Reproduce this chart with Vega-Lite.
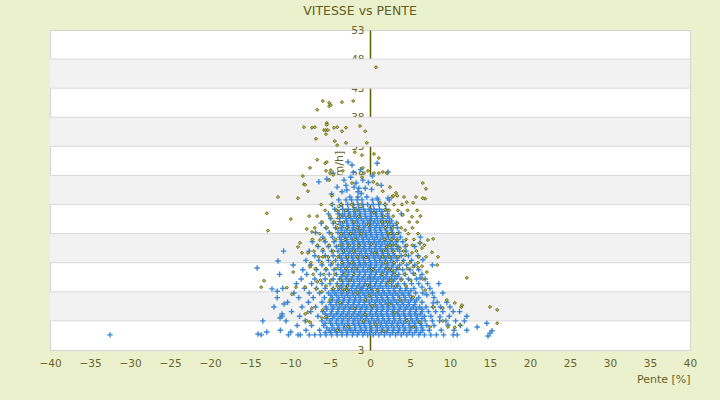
{
  "$schema": "https://vega.github.io/schema/vega-lite/v6.json",
  "width": 640,
  "height": 320,
  "autosize": {"type": "none"},
  "padding": {"left": 50, "top": 30, "right": 30, "bottom": 50},
  "background": "#ebf0cd",
  "title": {
    "text": "VITESSE vs PENTE",
    "font": "DejaVu Sans",
    "fontSize": 12.5,
    "fontWeight": "normal",
    "color": "#5f5f22",
    "anchor": "middle",
    "dx": -10,
    "offset": 8
  },
  "config": {
    "view": {"fill": "white", "stroke": "#d4d4d4", "strokeWidth": 1},
    "axisX": {
      "labelOverlap": false,
      "labelFlush": false,
      "grid": false,
      "ticks": false,
      "domain": false,
      "labelPadding": 8,
      "labelFont": "DejaVu Sans",
      "labelFontSize": 10.5,
      "labelColor": "#66662a",
      "titleFont": "DejaVu Sans",
      "titleFontSize": 11,
      "titleFontWeight": "normal",
      "titleColor": "#66662a",
      "titleAnchor": "end",
      "titlePadding": 5
    },
    "axisY": {
      "labelOverlap": false,
      "labelFlush": false,
      "grid": false,
      "ticks": false,
      "domainColor": "#5c5c00",
      "domainWidth": 1.5,
      "labelPadding": 6,
      "labelFont": "DejaVu Sans",
      "labelFontSize": 10.5,
      "labelColor": "#66662a",
      "titleFont": "DejaVu Sans",
      "titleFontSize": 11,
      "titleFontWeight": "normal",
      "titleColor": "#66662a",
      "titleAngle": -90,
      "titleX": -31,
      "titleY": 160,
      "titleAlign": "center",
      "titleBaseline": "middle",
      "zindex": 1
    }
  },
  "datasets": {
    "bands": [
      {"lo": 43, "hi": 48},
      {"lo": 33, "hi": 38},
      {"lo": 23, "hi": 28},
      {"lo": 13, "hi": 18},
      {"lo": 3, "hi": 8}
    ],
    "grid": [
      {"g": 3}, {"g": 8}, {"g": 13}, {"g": 18}, {"g": 23}, {"g": 28}, {"g": 33}, {"g": 38}, {"g": 43}, {"g": 48}
    ],
    "blue": [
      {"x":-32.5,"y":0.6},{"x":-14.0,"y":0.75},{"x":-13.6,"y":0.6},{"x":-10.2,"y":0.6},{"x":-9.0,"y":0.6},{"x":-8.7,"y":0.6},{"x":-7.6,"y":0.6},{"x":-6.9,"y":0.6},{"x":-6.2,"y":0.6},{"x":-5.5,"y":0.6},{"x":-4.8,"y":0.6},{"x":-4.1,"y":0.6},{"x":-3.5,"y":0.6},{"x":-2.9,"y":0.6},{"x":-2.2,"y":0.6},{"x":-1.6,"y":0.6},{"x":-0.9,"y":0.6},{"x":-0.3,"y":0.6},{"x":0.4,"y":0.6},{"x":1.1,"y":0.6},{"x":1.8,"y":0.6},{"x":2.5,"y":0.6},{"x":3.2,"y":0.6},{"x":3.9,"y":0.6},{"x":4.6,"y":0.6},{"x":5.3,"y":0.6},{"x":6.1,"y":0.6},{"x":6.8,"y":0.6},{"x":7.6,"y":0.6},{"x":8.3,"y":0.6},{"x":9.2,"y":0.6},{"x":10.4,"y":0.6},{"x":10.9,"y":0.6},{"x":14.75,"y":0.4},{"x":15.0,"y":0.9},
      {"x":-12.9,"y":1.1},{"x":-9.9,"y":1.1},{"x":-11.2,"y":1.4},{"x":-8.0,"y":1.4},{"x":-6.3,"y":1.4},{"x":-5.1,"y":1.4},{"x":-4.4,"y":1.4},{"x":-3.8,"y":1.4},{"x":-3.0,"y":1.4},{"x":-2.4,"y":1.4},{"x":-1.8,"y":1.4},{"x":-1.1,"y":1.4},{"x":-0.5,"y":1.4},{"x":0.2,"y":1.4},{"x":0.9,"y":1.4},{"x":1.5,"y":1.4},{"x":2.2,"y":1.4},{"x":2.9,"y":1.4},{"x":3.6,"y":1.4},{"x":4.3,"y":1.4},{"x":5.0,"y":1.4},{"x":5.8,"y":1.4},{"x":6.6,"y":1.4},{"x":7.4,"y":1.4},{"x":8.9,"y":1.4},{"x":10.5,"y":1.4},{"x":12.1,"y":1.4},{"x":15.25,"y":1.3},{"x":13.4,"y":1.95},
      {"x":-9.1,"y":2.2},{"x":-7.3,"y":2.2},{"x":-5.8,"y":2.2},{"x":-4.7,"y":2.2},{"x":-3.9,"y":2.2},{"x":-3.2,"y":2.2},{"x":-2.6,"y":2.2},{"x":-1.9,"y":2.2},{"x":-1.3,"y":2.2},{"x":-0.7,"y":2.2},{"x":0.0,"y":2.2},{"x":0.7,"y":2.2},{"x":1.3,"y":2.2},{"x":2.0,"y":2.2},{"x":2.7,"y":2.2},{"x":3.4,"y":2.2},{"x":4.1,"y":2.2},{"x":4.9,"y":2.2},{"x":5.6,"y":2.2},{"x":6.4,"y":2.2},{"x":7.1,"y":2.2},{"x":8.0,"y":2.2},{"x":9.75,"y":2.3},{"x":11.3,"y":2.2},{"x":14.6,"y":2.6},
      {"x":-13.4,"y":3.0},{"x":-10.5,"y":3.0},{"x":-8.1,"y":3.0},{"x":-6.0,"y":3.0},{"x":-5.0,"y":3.0},{"x":-4.2,"y":3.0},{"x":-3.5,"y":3.0},{"x":-2.8,"y":3.0},{"x":-2.1,"y":3.0},{"x":-1.5,"y":3.0},{"x":-0.8,"y":3.0},{"x":-0.2,"y":3.0},{"x":0.5,"y":3.0},{"x":1.1,"y":3.0},{"x":1.8,"y":3.0},{"x":2.4,"y":3.0},{"x":3.1,"y":3.0},{"x":3.8,"y":3.0},{"x":4.5,"y":3.0},{"x":5.3,"y":3.0},{"x":6.0,"y":3.0},{"x":6.9,"y":3.0},{"x":7.8,"y":3.0},{"x":8.7,"y":3.0},{"x":9.5,"y":3.0},{"x":10.7,"y":3.0},{"x":11.8,"y":3.0},
      {"x":-11.25,"y":3.5},{"x":-11.0,"y":3.8},{"x":-8.8,"y":3.8},{"x":-6.5,"y":3.8},{"x":-5.3,"y":3.8},{"x":-4.5,"y":3.8},{"x":-3.7,"y":3.8},{"x":-3.0,"y":3.8},{"x":-2.3,"y":3.8},{"x":-1.6,"y":3.8},{"x":-1.0,"y":3.8},{"x":-0.4,"y":3.8},{"x":0.3,"y":3.8},{"x":1.0,"y":3.8},{"x":1.6,"y":3.8},{"x":2.3,"y":3.8},{"x":3.0,"y":3.8},{"x":3.7,"y":3.8},{"x":4.4,"y":3.8},{"x":5.1,"y":3.8},{"x":5.9,"y":3.8},{"x":6.8,"y":3.8},{"x":7.6,"y":3.8},{"x":8.75,"y":3.7},{"x":9.9,"y":3.8},{"x":12.1,"y":3.8},
      {"x":-11.0,"y":4.2},{"x":-9.8,"y":4.6},{"x":-7.4,"y":4.6},{"x":-5.9,"y":4.6},{"x":-4.8,"y":4.6},{"x":-4.0,"y":4.6},{"x":-3.3,"y":4.6},{"x":-2.6,"y":4.6},{"x":-1.9,"y":4.6},{"x":-1.2,"y":4.6},{"x":-0.6,"y":4.6},{"x":0.1,"y":4.6},{"x":0.8,"y":4.6},{"x":1.4,"y":4.6},{"x":2.1,"y":4.6},{"x":2.8,"y":4.6},{"x":3.5,"y":4.6},{"x":4.2,"y":4.6},{"x":5.0,"y":4.6},{"x":5.7,"y":4.6},{"x":6.5,"y":4.6},{"x":7.3,"y":4.6},{"x":8.2,"y":4.6},{"x":9.1,"y":4.6},{"x":10.4,"y":4.6},{"x":11.2,"y":4.6},
      {"x":-12.0,"y":5.4},{"x":-8.5,"y":5.4},{"x":-6.8,"y":5.4},{"x":-5.5,"y":5.4},{"x":-4.6,"y":5.4},{"x":-3.8,"y":5.4},{"x":-3.1,"y":5.4},{"x":-2.4,"y":5.4},{"x":-1.7,"y":5.4},{"x":-1.0,"y":5.4},{"x":-0.4,"y":5.4},{"x":0.3,"y":5.4},{"x":0.9,"y":5.4},{"x":1.6,"y":5.4},{"x":2.3,"y":5.4},{"x":3.0,"y":5.4},{"x":3.8,"y":5.4},{"x":4.6,"y":5.4},{"x":5.4,"y":5.4},{"x":6.2,"y":5.4},{"x":7.0,"y":5.4},{"x":7.9,"y":5.4},{"x":8.8,"y":5.4},{"x":10.0,"y":5.4},
      {"x":-10.75,"y":5.9},{"x":-10.3,"y":6.2},{"x":-7.7,"y":6.2},{"x":-6.0,"y":6.2},{"x":-5.0,"y":6.2},{"x":-4.2,"y":6.2},{"x":-3.4,"y":6.2},{"x":-2.7,"y":6.2},{"x":-2.0,"y":6.2},{"x":-1.4,"y":6.2},{"x":-0.7,"y":6.2},{"x":-0.1,"y":6.2},{"x":0.6,"y":6.2},{"x":1.2,"y":6.2},{"x":1.9,"y":6.2},{"x":2.6,"y":6.2},{"x":3.3,"y":6.2},{"x":4.0,"y":6.2},{"x":4.8,"y":6.2},{"x":5.6,"y":6.2},{"x":6.5,"y":6.2},{"x":7.9,"y":6.1},{"x":8.4,"y":6.2},{"x":9.6,"y":6.2},
      {"x":-11.6,"y":7.0},{"x":-8.9,"y":7.0},{"x":-7.1,"y":7.0},{"x":-5.7,"y":7.0},{"x":-4.7,"y":7.0},{"x":-3.9,"y":7.0},{"x":-3.2,"y":7.0},{"x":-2.5,"y":7.0},{"x":-1.8,"y":7.0},{"x":-1.2,"y":7.0},{"x":-0.5,"y":7.0},{"x":0.2,"y":7.0},{"x":0.9,"y":7.0},{"x":1.5,"y":7.0},{"x":2.2,"y":7.0},{"x":2.9,"y":7.0},{"x":3.7,"y":7.0},{"x":4.4,"y":7.0},{"x":5.2,"y":7.0},{"x":6.1,"y":7.0},{"x":7.1,"y":7.5},{"x":8.0,"y":7.0},
      {"x":-9.5,"y":7.8},{"x":-7.6,"y":7.8},{"x":-6.3,"y":7.8},{"x":-5.2,"y":7.8},{"x":-4.4,"y":7.8},{"x":-3.6,"y":7.8},{"x":-2.9,"y":7.8},{"x":-2.2,"y":7.8},{"x":-1.5,"y":7.8},{"x":-0.9,"y":7.8},{"x":-0.2,"y":7.8},{"x":0.4,"y":7.8},{"x":1.1,"y":7.8},{"x":1.8,"y":7.8},{"x":2.5,"y":7.8},{"x":3.2,"y":7.8},{"x":4.0,"y":7.8},{"x":4.8,"y":7.8},{"x":5.7,"y":7.8},{"x":6.6,"y":7.8},{"x":7.8,"y":7.8},{"x":9.1,"y":7.8},
      {"x":-11.6,"y":8.1},{"x":-12.25,"y":8.5},{"x":-10.9,"y":8.6},{"x":-8.2,"y":8.6},{"x":-6.7,"y":8.6},{"x":-5.6,"y":8.6},{"x":-4.6,"y":8.6},{"x":-3.8,"y":8.6},{"x":-3.0,"y":8.6},{"x":-2.3,"y":8.6},{"x":-1.7,"y":8.6},{"x":-1.0,"y":8.6},{"x":-0.3,"y":8.6},{"x":0.3,"y":8.6},{"x":1.0,"y":8.6},{"x":1.6,"y":8.6},{"x":2.3,"y":8.6},{"x":3.0,"y":8.6},{"x":3.8,"y":8.6},{"x":4.6,"y":8.6},{"x":5.5,"y":8.6},{"x":6.5,"y":8.8},{"x":7.5,"y":8.6},
      {"x":-9.2,"y":9.4},{"x":-7.3,"y":9.4},{"x":-6.0,"y":9.4},{"x":-5.0,"y":9.4},{"x":-4.1,"y":9.4},{"x":-3.4,"y":9.4},{"x":-2.7,"y":9.4},{"x":-2.0,"y":9.4},{"x":-1.3,"y":9.4},{"x":-0.7,"y":9.4},{"x":0.0,"y":9.4},{"x":0.7,"y":9.4},{"x":1.3,"y":9.4},{"x":2.0,"y":9.4},{"x":2.7,"y":9.4},{"x":3.5,"y":9.4},{"x":4.3,"y":9.4},{"x":5.2,"y":9.4},{"x":6.1,"y":9.4},{"x":7.2,"y":9.4},{"x":8.6,"y":9.4},
      {"x":-8.6,"y":10.2},{"x":-6.9,"y":10.2},{"x":-5.6,"y":10.2},{"x":-4.6,"y":10.2},{"x":-3.8,"y":10.2},{"x":-3.0,"y":10.2},{"x":-2.3,"y":10.2},{"x":-1.6,"y":10.2},{"x":-1.0,"y":10.2},{"x":-0.3,"y":10.2},{"x":0.4,"y":10.2},{"x":1.0,"y":10.2},{"x":1.7,"y":10.2},{"x":2.4,"y":10.2},{"x":3.1,"y":10.2},{"x":3.9,"y":10.2},{"x":4.8,"y":10.2},{"x":5.8,"y":10.2},{"x":6.25,"y":10.4},{"x":6.9,"y":10.2},
      {"x":-11.3,"y":11.0},{"x":-7.9,"y":11.0},{"x":-6.2,"y":11.0},{"x":-5.1,"y":11.0},{"x":-4.2,"y":11.0},{"x":-3.4,"y":11.0},{"x":-2.7,"y":11.0},{"x":-2.0,"y":11.0},{"x":-1.3,"y":11.0},{"x":-0.6,"y":11.0},{"x":0.1,"y":11.0},{"x":0.7,"y":11.0},{"x":1.4,"y":11.0},{"x":2.1,"y":11.0},{"x":2.8,"y":11.0},{"x":3.6,"y":11.0},{"x":4.4,"y":11.0},{"x":5.4,"y":11.2},{"x":6.5,"y":11.0},
      {"x":-8.4,"y":11.8},{"x":-6.7,"y":11.8},{"x":-5.5,"y":11.8},{"x":-4.5,"y":11.8},{"x":-3.7,"y":11.8},{"x":-3.0,"y":11.8},{"x":-2.3,"y":11.8},{"x":-1.6,"y":11.8},{"x":-0.9,"y":11.8},{"x":-0.3,"y":11.8},{"x":0.4,"y":11.8},{"x":1.1,"y":11.8},{"x":1.8,"y":11.8},{"x":2.5,"y":11.8},{"x":3.3,"y":11.8},{"x":4.1,"y":11.8},{"x":5.0,"y":11.8},{"x":6.1,"y":11.8},
      {"x":-14.1,"y":12.1},{"x":-9.6,"y":12.6},{"x":-7.4,"y":12.6},{"x":-6.0,"y":12.6},{"x":-4.9,"y":12.6},{"x":-4.0,"y":12.6},{"x":-3.3,"y":12.6},{"x":-2.6,"y":12.6},{"x":-1.9,"y":12.6},{"x":-1.2,"y":12.6},{"x":-0.5,"y":12.6},{"x":0.1,"y":12.6},{"x":0.8,"y":12.6},{"x":1.5,"y":12.6},{"x":2.2,"y":12.6},{"x":2.9,"y":12.6},{"x":3.7,"y":12.6},{"x":4.6,"y":12.6},{"x":5.6,"y":12.6},{"x":7.8,"y":12.6},
      {"x":-11.5,"y":13.3},{"x":-8.0,"y":13.4},{"x":-6.4,"y":13.4},{"x":-5.2,"y":13.4},{"x":-4.3,"y":13.4},{"x":-3.5,"y":13.4},{"x":-2.8,"y":13.4},{"x":-2.1,"y":13.4},{"x":-1.4,"y":13.4},{"x":-0.8,"y":13.4},{"x":-0.1,"y":13.4},{"x":0.6,"y":13.4},{"x":1.2,"y":13.4},{"x":1.9,"y":13.4},{"x":2.6,"y":13.4},{"x":3.4,"y":13.4},{"x":4.2,"y":13.4},{"x":5.2,"y":13.4},{"x":6.6,"y":13.5},
      {"x":-6.9,"y":14.2},{"x":-5.6,"y":14.2},{"x":-4.6,"y":14.2},{"x":-3.8,"y":14.2},{"x":-3.0,"y":14.2},{"x":-2.3,"y":14.2},{"x":-1.6,"y":14.2},{"x":-1.0,"y":14.2},{"x":-0.3,"y":14.2},{"x":0.4,"y":14.2},{"x":1.0,"y":14.2},{"x":1.7,"y":14.2},{"x":2.4,"y":14.2},{"x":3.1,"y":14.2},{"x":3.9,"y":14.2},{"x":4.8,"y":14.2},{"x":6.0,"y":14.2},
      {"x":-10.8,"y":15.0},{"x":-7.6,"y":15.0},{"x":-5.9,"y":15.0},{"x":-4.8,"y":15.0},{"x":-4.0,"y":15.0},{"x":-3.2,"y":15.0},{"x":-2.5,"y":15.0},{"x":-1.8,"y":15.0},{"x":-1.1,"y":15.0},{"x":-0.5,"y":15.0},{"x":0.2,"y":15.0},{"x":0.9,"y":15.0},{"x":1.5,"y":15.0},{"x":2.2,"y":15.0},{"x":2.9,"y":15.0},{"x":3.7,"y":15.0},{"x":4.5,"y":15.0},
      {"x":-6.5,"y":15.8},{"x":-5.2,"y":15.8},{"x":-4.2,"y":15.8},{"x":-3.4,"y":15.8},{"x":-2.7,"y":15.8},{"x":-2.0,"y":15.8},{"x":-1.3,"y":15.8},{"x":-0.7,"y":15.8},{"x":0.0,"y":15.8},{"x":0.7,"y":15.8},{"x":1.3,"y":15.8},{"x":2.0,"y":15.8},{"x":2.7,"y":15.8},{"x":3.5,"y":15.8},{"x":4.4,"y":15.8},{"x":5.6,"y":15.8},
      {"x":6.25,"y":16.4},{"x":-7.2,"y":16.6},{"x":-5.6,"y":16.6},{"x":-4.5,"y":16.6},{"x":-3.6,"y":16.6},{"x":-2.9,"y":16.6},{"x":-2.2,"y":16.6},{"x":-1.5,"y":16.6},{"x":-0.9,"y":16.6},{"x":-0.2,"y":16.6},{"x":0.5,"y":16.6},{"x":1.1,"y":16.6},{"x":1.8,"y":16.6},{"x":2.5,"y":16.6},{"x":3.3,"y":16.6},{"x":4.1,"y":16.6},
      {"x":-5.9,"y":17.4},{"x":-4.7,"y":17.4},{"x":-3.8,"y":17.4},{"x":-3.1,"y":17.4},{"x":-2.4,"y":17.4},{"x":-1.7,"y":17.4},{"x":-1.0,"y":17.4},{"x":-0.4,"y":17.4},{"x":0.3,"y":17.4},{"x":0.9,"y":17.4},{"x":1.6,"y":17.4},{"x":2.3,"y":17.4},{"x":3.0,"y":17.4},{"x":3.8,"y":17.4},{"x":6.3,"y":17.4},
      {"x":-6.8,"y":18.2},{"x":-5.1,"y":18.2},{"x":-4.0,"y":18.2},{"x":-3.2,"y":18.2},{"x":-2.5,"y":18.2},{"x":-1.8,"y":18.2},{"x":-1.2,"y":18.2},{"x":-0.5,"y":18.2},{"x":0.1,"y":18.2},{"x":0.8,"y":18.2},{"x":1.4,"y":18.2},{"x":2.1,"y":18.2},{"x":2.8,"y":18.2},{"x":3.6,"y":18.2},
      {"x":-5.5,"y":19.0},{"x":-4.3,"y":19.0},{"x":-3.5,"y":19.0},{"x":-2.8,"y":19.0},{"x":-2.1,"y":19.0},{"x":-1.4,"y":19.0},{"x":-0.8,"y":19.0},{"x":-0.1,"y":19.0},{"x":0.6,"y":19.0},{"x":1.2,"y":19.0},{"x":1.9,"y":19.0},{"x":2.6,"y":19.0},{"x":3.4,"y":19.0},
      {"x":-6.1,"y":19.8},{"x":-4.6,"y":19.8},{"x":-3.7,"y":19.8},{"x":-2.9,"y":19.8},{"x":-2.2,"y":19.8},{"x":-1.6,"y":19.8},{"x":-0.9,"y":19.8},{"x":-0.3,"y":19.8},{"x":0.4,"y":19.8},{"x":1.0,"y":19.8},{"x":1.7,"y":19.8},{"x":2.5,"y":19.8},{"x":3.3,"y":19.8},
      {"x":-4.9,"y":20.6},{"x":-3.8,"y":20.6},{"x":-3.0,"y":20.6},{"x":-2.4,"y":20.6},{"x":-1.7,"y":20.6},{"x":-1.1,"y":20.6},{"x":-0.4,"y":20.6},{"x":0.2,"y":20.6},{"x":0.9,"y":20.6},{"x":1.6,"y":20.6},{"x":2.4,"y":20.6},
      {"x":-5.2,"y":21.4},{"x":-4.0,"y":21.4},{"x":-3.2,"y":21.4},{"x":-2.5,"y":21.4},{"x":-1.8,"y":21.4},{"x":-1.2,"y":21.4},{"x":-0.6,"y":21.4},{"x":0.1,"y":21.4},{"x":0.7,"y":21.4},{"x":1.4,"y":21.4},{"x":2.2,"y":21.4},{"x":3.9,"y":21.4},
      {"x":-4.4,"y":22.2},{"x":-3.4,"y":22.2},{"x":-2.7,"y":22.2},{"x":-2.0,"y":22.2},{"x":-1.4,"y":22.2},{"x":-0.8,"y":22.2},{"x":-0.1,"y":22.2},{"x":0.5,"y":22.2},{"x":1.2,"y":22.2},{"x":2.0,"y":22.2},
      {"x":-4.7,"y":23.0},{"x":-3.6,"y":23.0},{"x":-2.8,"y":23.0},{"x":-2.1,"y":23.0},{"x":-1.5,"y":23.0},{"x":-0.9,"y":23.0},{"x":-0.3,"y":23.0},{"x":0.4,"y":23.0},{"x":1.1,"y":23.0},{"x":1.9,"y":23.0},
      {"x":-3.9,"y":23.8},{"x":-3.0,"y":23.8},{"x":-2.3,"y":23.8},{"x":-1.6,"y":23.8},{"x":-1.0,"y":23.8},{"x":0.3,"y":23.8},{"x":1.0,"y":23.8},{"x":2.4,"y":23.8},
      {"x":-2.5,"y":24.3},{"x":-1.5,"y":24.3},{"x":-0.4,"y":24.3},{"x":0.9,"y":24.1},{"x":2.25,"y":24.1},{"x":-4.8,"y":24.8},{"x":-1.1,"y":24.9},{"x":-3.5,"y":25.2},{"x":-1.5,"y":25.2},{"x":-2.9,"y":25.5},{"x":0.2,"y":25.6},{"x":-1.4,"y":25.8},{"x":-0.6,"y":25.8},{"x":-4.1,"y":26.0},{"x":-2.0,"y":26.0},{"x":-3.0,"y":26.3},{"x":1.4,"y":26.3},{"x":-1.75,"y":26.7},{"x":-0.2,"y":26.8},{"x":-6.4,"y":26.9},{"x":-3.25,"y":27.2},{"x":-0.9,"y":27.2},{"x":-5.4,"y":27.4},{"x":-2.4,"y":27.7},{"x":0.3,"y":27.9},{"x":-4.6,"y":28.4},{"x":-2.1,"y":28.5},{"x":2.25,"y":28.6},{"x":-1.2,"y":29.0},{"x":-2.25,"y":29.8},{"x":0.9,"y":30.1},{"x":-2.75,"y":30.3},
      {"x":-5.6,"y":1.0},{"x":-4.9,"y":1.0},{"x":-4.2,"y":1.0},{"x":-3.5,"y":1.0},{"x":-2.8,"y":1.0},{"x":-2.1,"y":1.0},{"x":-1.4,"y":1.0},{"x":-0.7,"y":1.0},{"x":0.0,"y":1.0},{"x":0.7,"y":1.0},{"x":1.4,"y":1.0},{"x":2.1,"y":1.0},{"x":2.8,"y":1.0},{"x":3.5,"y":1.0},{"x":4.2,"y":1.0},{"x":4.9,"y":1.0},{"x":5.6,"y":1.0},{"x":6.3,"y":1.0},
      {"x":-5.4,"y":1.8},{"x":-4.7,"y":1.8},{"x":-4.0,"y":1.8},{"x":-3.3,"y":1.8},{"x":-2.6,"y":1.8},{"x":-1.9,"y":1.8},{"x":-1.2,"y":1.8},{"x":-0.5,"y":1.8},{"x":0.2,"y":1.8},{"x":0.9,"y":1.8},{"x":1.6,"y":1.8},{"x":2.3,"y":1.8},{"x":3.0,"y":1.8},{"x":3.7,"y":1.8},{"x":4.4,"y":1.8},{"x":5.1,"y":1.8},{"x":5.8,"y":1.8},{"x":6.5,"y":1.8},
      {"x":-5.6,"y":2.6},{"x":-4.9,"y":2.6},{"x":-4.2,"y":2.6},{"x":-3.5,"y":2.6},{"x":-2.8,"y":2.6},{"x":-2.1,"y":2.6},{"x":-1.4,"y":2.6},{"x":-0.7,"y":2.6},{"x":0.0,"y":2.6},{"x":0.7,"y":2.6},{"x":1.4,"y":2.6},{"x":2.1,"y":2.6},{"x":2.8,"y":2.6},{"x":3.5,"y":2.6},{"x":4.2,"y":2.6},{"x":4.9,"y":2.6},{"x":5.6,"y":2.6},{"x":6.3,"y":2.6},
      {"x":-5.4,"y":3.4},{"x":-4.7,"y":3.4},{"x":-4.0,"y":3.4},{"x":-3.3,"y":3.4},{"x":-2.6,"y":3.4},{"x":-1.9,"y":3.4},{"x":-1.2,"y":3.4},{"x":-0.5,"y":3.4},{"x":0.2,"y":3.4},{"x":0.9,"y":3.4},{"x":1.6,"y":3.4},{"x":2.3,"y":3.4},{"x":3.0,"y":3.4},{"x":3.7,"y":3.4},{"x":4.4,"y":3.4},{"x":5.1,"y":3.4},{"x":5.8,"y":3.4},{"x":6.5,"y":3.4},
      {"x":-5.6,"y":4.2},{"x":-4.9,"y":4.2},{"x":-4.2,"y":4.2},{"x":-3.5,"y":4.2},{"x":-2.8,"y":4.2},{"x":-2.1,"y":4.2},{"x":-1.4,"y":4.2},{"x":-0.7,"y":4.2},{"x":0.0,"y":4.2},{"x":0.7,"y":4.2},{"x":1.4,"y":4.2},{"x":2.1,"y":4.2},{"x":2.8,"y":4.2},{"x":3.5,"y":4.2},{"x":4.2,"y":4.2},{"x":4.9,"y":4.2},{"x":5.6,"y":4.2},{"x":6.3,"y":4.2},
      {"x":-5.4,"y":5.0},{"x":-4.7,"y":5.0},{"x":-4.0,"y":5.0},{"x":-3.3,"y":5.0},{"x":-2.6,"y":5.0},{"x":-1.9,"y":5.0},{"x":-1.2,"y":5.0},{"x":-0.5,"y":5.0},{"x":0.2,"y":5.0},{"x":0.9,"y":5.0},{"x":1.6,"y":5.0},{"x":2.3,"y":5.0},{"x":3.0,"y":5.0},{"x":3.7,"y":5.0},{"x":4.4,"y":5.0},{"x":5.1,"y":5.0},{"x":5.8,"y":5.0},{"x":6.5,"y":5.0},
      {"x":-4.9,"y":5.8},{"x":-4.2,"y":5.8},{"x":-3.5,"y":5.8},{"x":-2.8,"y":5.8},{"x":-2.1,"y":5.8},{"x":-1.4,"y":5.8},{"x":-0.7,"y":5.8},{"x":0.0,"y":5.8},{"x":0.7,"y":5.8},{"x":1.4,"y":5.8},{"x":2.1,"y":5.8},{"x":2.8,"y":5.8},{"x":3.5,"y":5.8},{"x":4.2,"y":5.8},{"x":4.9,"y":5.8},{"x":5.6,"y":5.8},
      {"x":-4.7,"y":6.6},{"x":-4.0,"y":6.6},{"x":-3.3,"y":6.6},{"x":-2.6,"y":6.6},{"x":-1.9,"y":6.6},{"x":-1.2,"y":6.6},{"x":-0.5,"y":6.6},{"x":0.2,"y":6.6},{"x":0.9,"y":6.6},{"x":1.6,"y":6.6},{"x":2.3,"y":6.6},{"x":3.0,"y":6.6},{"x":3.7,"y":6.6},{"x":4.4,"y":6.6},{"x":5.1,"y":6.6},{"x":5.8,"y":6.6},
      {"x":-4.9,"y":7.4},{"x":-4.2,"y":7.4},{"x":-3.5,"y":7.4},{"x":-2.8,"y":7.4},{"x":-2.1,"y":7.4},{"x":-1.4,"y":7.4},{"x":-0.7,"y":7.4},{"x":0.0,"y":7.4},{"x":0.7,"y":7.4},{"x":1.4,"y":7.4},{"x":2.1,"y":7.4},{"x":2.8,"y":7.4},{"x":3.5,"y":7.4},{"x":4.2,"y":7.4},{"x":4.9,"y":7.4},
      {"x":-4.7,"y":8.2},{"x":-4.0,"y":8.2},{"x":-3.3,"y":8.2},{"x":-2.6,"y":8.2},{"x":-1.9,"y":8.2},{"x":-1.2,"y":8.2},{"x":-0.5,"y":8.2},{"x":0.2,"y":8.2},{"x":0.9,"y":8.2},{"x":1.6,"y":8.2},{"x":2.3,"y":8.2},{"x":3.0,"y":8.2},{"x":3.7,"y":8.2},{"x":4.4,"y":8.2},{"x":5.1,"y":8.2},
      {"x":-3.6,"y":9.0},{"x":-2.9,"y":9.0},{"x":-2.2,"y":9.0},{"x":-1.5,"y":9.0},{"x":-0.8,"y":9.0},{"x":-0.1,"y":9.0},{"x":0.6,"y":9.0},{"x":1.3,"y":9.0},{"x":2.0,"y":9.0},{"x":2.7,"y":9.0},{"x":3.4,"y":9.0},
      {"x":-3.4,"y":9.8},{"x":-2.7,"y":9.8},{"x":-2.0,"y":9.8},{"x":-1.3,"y":9.8},{"x":-0.6,"y":9.8},{"x":0.1,"y":9.8},{"x":0.8,"y":9.8},{"x":1.5,"y":9.8},{"x":2.2,"y":9.8},{"x":2.9,"y":9.8},
      {"x":-3.6,"y":10.6},{"x":-2.9,"y":10.6},{"x":-2.2,"y":10.6},{"x":-1.5,"y":10.6},{"x":-0.8,"y":10.6},{"x":-0.1,"y":10.6},{"x":0.6,"y":10.6},{"x":1.3,"y":10.6},{"x":2.0,"y":10.6},{"x":2.7,"y":10.6},{"x":3.4,"y":10.6},
      {"x":-3.4,"y":11.4},{"x":-2.7,"y":11.4},{"x":-2.0,"y":11.4},{"x":-1.3,"y":11.4},{"x":-0.6,"y":11.4},{"x":0.1,"y":11.4},{"x":0.8,"y":11.4},{"x":1.5,"y":11.4},{"x":2.2,"y":11.4},{"x":2.9,"y":11.4},
      {"x":-3.6,"y":12.2},{"x":-2.9,"y":12.2},{"x":-2.2,"y":12.2},{"x":-1.5,"y":12.2},{"x":-0.8,"y":12.2},{"x":-0.1,"y":12.2},{"x":0.6,"y":12.2},{"x":1.3,"y":12.2},{"x":2.0,"y":12.2},{"x":2.7,"y":12.2},{"x":3.4,"y":12.2},
      {"x":-3.4,"y":13.0},{"x":-2.7,"y":13.0},{"x":-2.0,"y":13.0},{"x":-1.3,"y":13.0},{"x":-0.6,"y":13.0},{"x":0.1,"y":13.0},{"x":0.8,"y":13.0},{"x":1.5,"y":13.0},{"x":2.2,"y":13.0},{"x":2.9,"y":13.0},
      {"x":-3.6,"y":13.8},{"x":-2.9,"y":13.8},{"x":-2.2,"y":13.8},{"x":-1.5,"y":13.8},{"x":-0.8,"y":13.8},{"x":-0.1,"y":13.8},{"x":0.6,"y":13.8},{"x":1.3,"y":13.8},{"x":2.0,"y":13.8},{"x":2.7,"y":13.8},{"x":3.4,"y":13.8},
      {"x":-3.4,"y":14.6},{"x":-2.7,"y":14.6},{"x":-2.0,"y":14.6},{"x":-1.3,"y":14.6},{"x":-0.6,"y":14.6},{"x":0.1,"y":14.6},{"x":0.8,"y":14.6},{"x":1.5,"y":14.6},{"x":2.2,"y":14.6},{"x":2.9,"y":14.6},
      {"x":-3.6,"y":15.4},{"x":-2.9,"y":15.4},{"x":-2.2,"y":15.4},{"x":-1.5,"y":15.4},{"x":-0.8,"y":15.4},{"x":-0.1,"y":15.4},{"x":0.6,"y":15.4},{"x":1.3,"y":15.4},{"x":2.0,"y":15.4},{"x":2.7,"y":15.4},{"x":3.4,"y":15.4},
      {"x":-3.4,"y":16.2},{"x":-2.7,"y":16.2},{"x":-2.0,"y":16.2},{"x":-1.3,"y":16.2},{"x":-0.6,"y":16.2},{"x":0.1,"y":16.2},{"x":0.8,"y":16.2},{"x":1.5,"y":16.2},{"x":2.2,"y":16.2},{"x":2.9,"y":16.2},
      {"x":-3.6,"y":17.0},{"x":-2.9,"y":17.0},{"x":-2.2,"y":17.0},{"x":-1.5,"y":17.0},{"x":-0.8,"y":17.0},{"x":-0.1,"y":17.0},{"x":0.6,"y":17.0},{"x":1.3,"y":17.0},{"x":2.0,"y":17.0},{"x":2.7,"y":17.0},{"x":3.4,"y":17.0},
      {"x":-3.4,"y":17.8},{"x":-2.7,"y":17.8},{"x":-2.0,"y":17.8},{"x":-1.3,"y":17.8},{"x":-0.6,"y":17.8},{"x":0.1,"y":17.8},{"x":0.8,"y":17.8},{"x":1.5,"y":17.8},{"x":2.2,"y":17.8},{"x":2.9,"y":17.8},
      {"x":-3.6,"y":18.6},{"x":-2.9,"y":18.6},{"x":-2.2,"y":18.6},{"x":-1.5,"y":18.6},{"x":-0.8,"y":18.6},{"x":-0.1,"y":18.6},{"x":0.6,"y":18.6},{"x":1.3,"y":18.6},{"x":2.0,"y":18.6},{"x":2.7,"y":18.6},
      {"x":-3.4,"y":19.4},{"x":-2.7,"y":19.4},{"x":-2.0,"y":19.4},{"x":-1.3,"y":19.4},{"x":-0.6,"y":19.4},{"x":0.1,"y":19.4},{"x":0.8,"y":19.4},{"x":1.5,"y":19.4},{"x":2.2,"y":19.4},{"x":2.9,"y":19.4},
      {"x":-2.9,"y":20.2},{"x":-2.2,"y":20.2},{"x":-1.5,"y":20.2},{"x":-0.8,"y":20.2},{"x":-0.1,"y":20.2},{"x":0.6,"y":20.2},{"x":1.3,"y":20.2},{"x":2.0,"y":20.2},{"x":2.7,"y":20.2},
      {"x":-3.4,"y":21.0},{"x":-2.7,"y":21.0},{"x":-2.0,"y":21.0},{"x":-1.3,"y":21.0},{"x":-0.6,"y":21.0},{"x":0.1,"y":21.0},{"x":0.8,"y":21.0},{"x":1.5,"y":21.0},{"x":2.2,"y":21.0},
      {"x":-2.7,"y":21.8},{"x":-2.0,"y":21.8},{"x":-1.3,"y":21.8},{"x":-0.6,"y":21.8},{"x":0.1,"y":21.8},{"x":0.8,"y":21.8},{"x":1.5,"y":21.8}
    ],
    "olive": [
      {"x":0.75,"y":46.6},{"x":-5.9,"y":40.8},{"x":-5.1,"y":40.5},{"x":-5.1,"y":39.9},{"x":-4.9,"y":40.1},{"x":-3.5,"y":40.6},{"x":-2.1,"y":40.8},{"x":-6.6,"y":39.3},{"x":-5.4,"y":37.0},{"x":-5.4,"y":36.7},{"x":-4.1,"y":36.3},{"x":-4.5,"y":36.2},{"x":-8.25,"y":36.3},{"x":-7.25,"y":36.2},{"x":-6.9,"y":36.3},{"x":-5.75,"y":35.8},{"x":-5.5,"y":35.8},{"x":-5.25,"y":35.8},{"x":-5.5,"y":35.1},{"x":-3.0,"y":36.2},{"x":-1.25,"y":36.5},{"x":-0.6,"y":35.6},{"x":-3.5,"y":35.6},{"x":-6.75,"y":34.3},{"x":-4.4,"y":33.9},{"x":-3.0,"y":33.6},{"x":-0.4,"y":33.6},{"x":-1.9,"y":32.0},{"x":-1.0,"y":31.5},{"x":0.5,"y":31.7},{"x":1.1,"y":31.0},{"x":-4.1,"y":33.2},{"x":-6.6,"y":30.7},{"x":-5.6,"y":30.1},{"x":-5.4,"y":30.3},{"x":-7.5,"y":29.3},{"x":-8.4,"y":27.9},{"x":-8.25,"y":26.5},{"x":-8.1,"y":26.4},{"x":-7.75,"y":25.3},{"x":-5.5,"y":28.8},{"x":-4.9,"y":28.9},{"x":-5.0,"y":28.4},{"x":-4.6,"y":28.1},{"x":-5.1,"y":27.2},{"x":-3.4,"y":28.8},{"x":-2.25,"y":26.7},{"x":-1.0,"y":27.7},{"x":-0.9,"y":29.3},{"x":-0.75,"y":28.4},{"x":-0.25,"y":28.8},{"x":0.5,"y":28.4},{"x":1.1,"y":28.4},{"x":1.6,"y":28.6},{"x":2.1,"y":28.4},{"x":0.4,"y":26.9},{"x":0.9,"y":26.5},{"x":2.5,"y":26.0},{"x":1.6,"y":25.3},{"x":2.9,"y":24.5},{"x":3.25,"y":25.0},{"x":4.25,"y":24.3},{"x":5.75,"y":24.3},{"x":6.6,"y":26.7},{"x":7.0,"y":25.7},{"x":6.9,"y":24.0},{"x":-11.5,"y":24.3},{"x":-9.0,"y":24.1},{"x":-4.75,"y":24.5},
      {"x":-12.9,"y":21.5},{"x":-9.9,"y":20.5},{"x":-12.75,"y":18.5},{"x":-7.6,"y":21.0},{"x":-7.9,"y":18.8},{"x":-7.25,"y":18.3},{"x":-8.75,"y":16.4},{"x":-9.0,"y":15.7},{"x":-8.5,"y":14.7},{"x":-7.75,"y":14.7},{"x":-6.25,"y":16.9},{"x":-5.9,"y":14.0},{"x":-7.5,"y":12.3},{"x":-9.6,"y":11.4},{"x":-13.25,"y":9.9},{"x":-13.6,"y":8.8},{"x":-10.4,"y":8.7},{"x":-9.75,"y":7.6},{"x":-9.25,"y":8.8},{"x":-8.1,"y":8.8},{"x":-6.6,"y":9.7},{"x":-6.0,"y":8.0},{"x":-7.25,"y":5.2},{"x":-7.75,"y":4.5},{"x":-8.1,"y":4.2},{"x":-7.9,"y":3.0},{"x":-7.5,"y":2.8},{"x":-6.0,"y":3.5},{"x":-5.5,"y":3.7},{"x":-5.9,"y":4.9},{"x":-5.0,"y":6.6},{"x":-3.75,"y":6.1},{"x":-2.9,"y":8.3},{"x":-1.6,"y":7.8},{"x":-0.6,"y":6.6},{"x":0.9,"y":8.3},{"x":2.25,"y":9.5},{"x":3.75,"y":6.6},{"x":5.4,"y":7.1},{"x":6.9,"y":8.3},{"x":7.9,"y":5.4},{"x":9.1,"y":5.2},{"x":9.6,"y":6.6},{"x":10.6,"y":6.1},{"x":11.4,"y":5.4},{"x":11.5,"y":5.7},{"x":10.6,"y":1.9},{"x":11.25,"y":2.3},{"x":12.1,"y":10.4},{"x":15.0,"y":5.4},{"x":15.9,"y":4.9},{"x":15.9,"y":2.6},{"x":6.25,"y":2.8},{"x":7.5,"y":1.95},{"x":5.4,"y":1.95},{"x":9.1,"y":3.0},{"x":9.75,"y":1.95},
      {"x":2.75,"y":24.3},{"x":3.4,"y":24.5},{"x":4.6,"y":23.4},{"x":5.4,"y":23.3},{"x":6.6,"y":24.1},{"x":4.1,"y":21.2},{"x":5.25,"y":20.9},{"x":3.4,"y":19.8},{"x":4.4,"y":18.6},{"x":3.4,"y":16.9},{"x":3.75,"y":15.5},{"x":4.4,"y":14.3},{"x":5.25,"y":14.7},{"x":6.25,"y":16.4},{"x":7.75,"y":14.8},{"x":7.9,"y":17.1},{"x":7.25,"y":16.9},{"x":6.5,"y":15.5},{"x":8.5,"y":14.0},{"x":6.5,"y":12.4},{"x":7.1,"y":11.4},{"x":8.4,"y":12.6},{"x":5.4,"y":12.3},{"x":6.6,"y":10.2},{"x":2.75,"y":11.7},{"x":1.6,"y":14.0},{"x":2.1,"y":15.7},{"x":2.25,"y":18.1},{"x":1.5,"y":20.0},{"x":1.9,"y":22.1},{"x":1.25,"y":23.3},
      {"x":-6.1,"y":23},{"x":-4.8,"y":23},{"x":-3.6,"y":23},{"x":-2.3,"y":23},{"x":-1.2,"y":23},
      {"x":-5.6,"y":22},{"x":-4.2,"y":22},{"x":-3.0,"y":22},{"x":-1.8,"y":22},
      {"x":-6.6,"y":21},{"x":-5.0,"y":21},{"x":-3.7,"y":21},{"x":-2.6,"y":21},{"x":-1.4,"y":21},
      {"x":-6.0,"y":20},{"x":-4.5,"y":20},{"x":-3.3,"y":20},{"x":-2.0,"y":20},
      {"x":-6.9,"y":19},{"x":-5.4,"y":19},{"x":-4.1,"y":19},{"x":-2.9,"y":19},{"x":-1.6,"y":19},
      {"x":-6.3,"y":18},{"x":-4.8,"y":18},{"x":-3.6,"y":18},{"x":-2.4,"y":18},{"x":-1.1,"y":18},
      {"x":-7.2,"y":17},{"x":-5.7,"y":17},{"x":-4.3,"y":17},{"x":-3.1,"y":17},{"x":-1.9,"y":17},
      {"x":-6.6,"y":16},{"x":-5.1,"y":16},{"x":-3.8,"y":16},{"x":-2.6,"y":16},{"x":-1.4,"y":16},
      {"x":-7.0,"y":15},{"x":-5.9,"y":15.3},{"x":-4.6,"y":15},{"x":-3.3,"y":15},{"x":-2.1,"y":15},
      {"x":-6.4,"y":14},{"x":-5.2,"y":14},{"x":-4.0,"y":14},{"x":-2.8,"y":14},{"x":-1.6,"y":14},
      {"x":-7.4,"y":13},{"x":-6.0,"y":13},{"x":-4.7,"y":13},{"x":-3.5,"y":13},{"x":-2.3,"y":13},
      {"x":-6.8,"y":12},{"x":-5.5,"y":12},{"x":-4.2,"y":12},{"x":-3.0,"y":12},{"x":-1.8,"y":12},
      {"x":-7.1,"y":11},{"x":-5.8,"y":11},{"x":-4.4,"y":11},{"x":-3.2,"y":11},{"x":-2.0,"y":11},
      {"x":-6.2,"y":10},{"x":-4.9,"y":10},{"x":-3.7,"y":10},{"x":-2.5,"y":10},
      {"x":-5.5,"y":9},{"x":-4.1,"y":9},{"x":-2.8,"y":9},
      {"x":-6.7,"y":8.5},{"x":-4.6,"y":8.5},{"x":-3.4,"y":8.5},
      {"x":-0.6,"y":4.1},{"x":0.3,"y":5.6},{"x":-0.3,"y":9.2},{"x":0.4,"y":11.8},{"x":-0.5,"y":13.9},{"x":0.2,"y":16.2},{"x":-0.2,"y":19.5},{"x":0.5,"y":21.6},{"x":-0.8,"y":3.0},{"x":0.7,"y":2.4},{"x":-0.1,"y":7.3},{"x":0.6,"y":14.7},
      {"x":1.9,"y":23},{"x":3.0,"y":23},{"x":4.0,"y":23},
      {"x":2.4,"y":22},{"x":3.5,"y":22},{"x":4.7,"y":22},{"x":5.9,"y":22},
      {"x":1.7,"y":21},{"x":2.9,"y":21},{"x":6.3,"y":21},
      {"x":2.2,"y":20},{"x":4.9,"y":20},{"x":5.9,"y":20},
      {"x":1.9,"y":19},{"x":2.8,"y":19},{"x":3.9,"y":19},{"x":5.3,"y":19},
      {"x":2.6,"y":18},{"x":3.4,"y":18},{"x":4.8,"y":18},{"x":6.0,"y":18},
      {"x":1.8,"y":17},{"x":2.7,"y":17},{"x":4.5,"y":17},{"x":5.5,"y":17},
      {"x":2.5,"y":16},{"x":3.2,"y":16},{"x":4.6,"y":16},{"x":5.3,"y":16},{"x":6.8,"y":16},
      {"x":1.7,"y":15},{"x":2.9,"y":15},{"x":4.2,"y":15},{"x":5.8,"y":15},
      {"x":2.4,"y":14},{"x":3.5,"y":14},{"x":6.1,"y":14},{"x":7.0,"y":14},
      {"x":1.9,"y":13},{"x":3.0,"y":13},{"x":4.1,"y":13},{"x":5.0,"y":13},{"x":6.0,"y":13},
      {"x":2.2,"y":12},{"x":3.6,"y":12},{"x":4.7,"y":12},{"x":6.0,"y":12.2},
      {"x":1.6,"y":11},{"x":3.1,"y":11},{"x":4.3,"y":11},{"x":5.6,"y":11},
      {"x":2.6,"y":10},{"x":3.9,"y":10},{"x":5.1,"y":10},
      {"x":3.2,"y":9},{"x":4.5,"y":9},
      {"x":-2.7,"y":2.0},{"x":1.7,"y":1.2},{"x":3.1,"y":4.4},{"x":4.6,"y":3.1},{"x":-4.1,"y":1.4},{"x":2.4,"y":5.9},{"x":-1.9,"y":5.1}
    ]
  },
  "layer": [
    {
      "data": {"name": "bands"},
      "mark": {"type": "rect", "fill": "#f2f2f2"},
      "encoding": {
        "x": {
          "datum": -40,
          "type": "quantitative",
          "scale": {"domain": [-40, 40], "nice": false},
          "axis": {"title": "Pente [%]", "values": [-40, -35, -30, -25, -20, -15, -10, -5, 0, 5, 10, 15, 20, 25, 30, 35, 40], "labelOverlap": false}
        },
        "x2": {"datum": 40},
        "y": {
          "field": "lo",
          "type": "quantitative",
          "scale": {"domain": [-2, 53], "nice": false, "zero": false},
          "axis": {"title": "Vitesse [km/h]", "offset": -320, "values": [-2, 3, 8, 13, 18, 23, 28, 33, 38, 43, 48, 53], "labelExpr": "datum.value < 0 ? '3' : datum.label", "labelOverlap": false}
        },
        "y2": {"field": "hi"}
      }
    },
    {
      "data": {"name": "grid"},
      "mark": {"type": "rule", "color": "#d9d9d9", "strokeWidth": 1},
      "encoding": {
        "y": {
          "field": "g",
          "type": "quantitative",
          "axis": {"title": "Vitesse [km/h]", "offset": -320, "values": [-2, 3, 8, 13, 18, 23, 28, 33, 38, 43, 48, 53], "labelExpr": "datum.value < 0 ? '3' : datum.label", "labelOverlap": false}
        }
      }
    },
    {
      "data": {"name": "blue"},
      "mark": {
        "type": "point",
        "shape": "M-1,0L1,0M0,-1L0,1",
        "filled": false,
        "stroke": "#3a86d8",
        "strokeWidth": 1.4,
        "size": 30,
        "opacity": 1
      },
      "encoding": {
        "x": {
          "field": "x",
          "type": "quantitative",
          "axis": {"title": "Pente [%]", "values": [-40, -35, -30, -25, -20, -15, -10, -5, 0, 5, 10, 15, 20, 25, 30, 35, 40], "labelOverlap": false}
        },
        "y": {
          "field": "y",
          "type": "quantitative",
          "axis": {"title": "Vitesse [km/h]", "offset": -320, "values": [-2, 3, 8, 13, 18, 23, 28, 33, 38, 43, 48, 53], "labelExpr": "datum.value < 0 ? '3' : datum.label", "labelOverlap": false}
        }
      }
    },
    {
      "data": {"name": "olive"},
      "mark": {
        "type": "point",
        "shape": "diamond",
        "filled": true,
        "fill": "#c9c95a",
        "stroke": "#555500",
        "strokeWidth": 0.9,
        "size": 10,
        "opacity": 1
      },
      "encoding": {
        "x": {
          "field": "x",
          "type": "quantitative",
          "axis": {"title": "Pente [%]", "values": [-40, -35, -30, -25, -20, -15, -10, -5, 0, 5, 10, 15, 20, 25, 30, 35, 40], "labelOverlap": false}
        },
        "y": {
          "field": "y",
          "type": "quantitative",
          "axis": {"title": "Vitesse [km/h]", "offset": -320, "values": [-2, 3, 8, 13, 18, 23, 28, 33, 38, 43, 48, 53], "labelExpr": "datum.value < 0 ? '3' : datum.label", "labelOverlap": false}
        }
      }
    }
  ]
}
